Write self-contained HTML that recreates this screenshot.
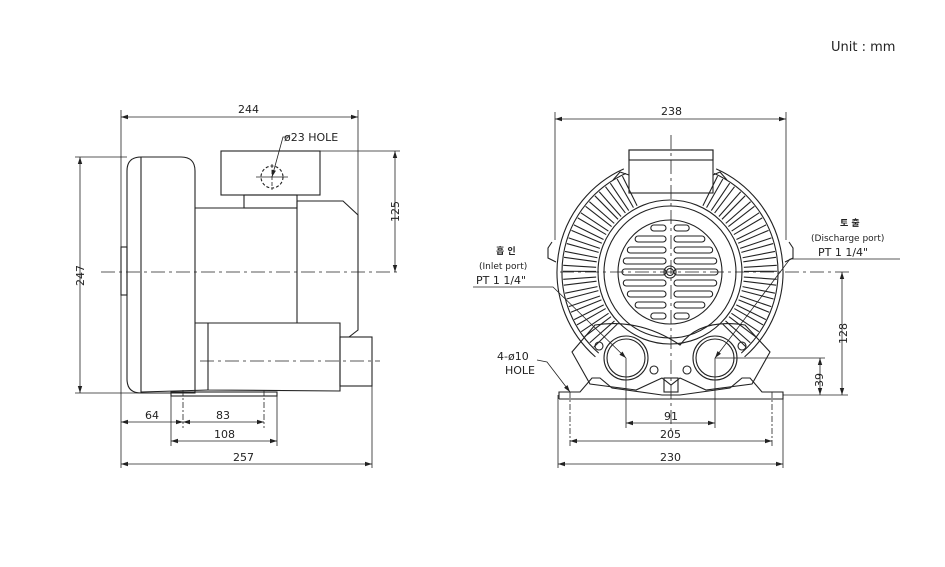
<!DOCTYPE html>
<html><head><meta charset="utf-8"><style>
html,body{margin:0;padding:0;background:#fff}
svg{display:block}
text{font-family:"DejaVu Sans","Liberation Sans","Noto Sans CJK KR",sans-serif;fill:#222}
</style></head><body>
<svg id="s" width="945" height="567" viewBox="0 0 945 567" xmlns="http://www.w3.org/2000/svg">
<rect width="945" height="567" fill="#fff"/>
<text x="831" y="51" font-size="13" font-family="Liberation Sans,sans-serif">Unit : mm</text>
<g stroke="#222" stroke-width="1.1" fill="none">
<path d="M141,157 L181,157 Q195,157 195,171 L195,393 L141,393 Q127,393 127,379 L127,171 Q127,157 141,157 Z"/>
<line x1="141" y1="157" x2="141" y2="393"/>
<rect x="121" y="247" width="6" height="48"/>
<rect x="221" y="151" width="99" height="44"/>
<rect x="244" y="195" width="53" height="13"/>
<line x1="195" y1="208" x2="244" y2="208"/>
<line x1="195" y1="323" x2="297" y2="323"/>
<line x1="297" y1="201" x2="297" y2="323"/>
<polyline points="297,201 343,201 358,215 358,330 349,337"/>
<polyline points="208,323 208,390 340,391 340,323 297,323"/>
<rect x="340" y="337" width="32" height="49"/>
<line x1="141" y1="392" x2="208" y2="390"/>
<rect x="171" y="392" width="106" height="4"/>
<circle cx="272" cy="177" r="11" stroke-dasharray="3,2"/>
</g>
<g stroke="#222" stroke-width="0.8" fill="none">
<line x1="101" y1="272" x2="400" y2="272" stroke-dasharray="14,4,3,4"/>
<line x1="200" y1="361" x2="380" y2="361" stroke-dasharray="14,4,3,4"/>
<line x1="256" y1="177" x2="288" y2="177"/><line x1="272" y1="164" x2="272" y2="190" stroke-dasharray="4,2"/>
<line x1="121" y1="110" x2="121" y2="468"/><line x1="358" y1="110" x2="358" y2="215"/>
<line x1="121" y1="117" x2="358" y2="117"/>
<line x1="75" y1="157" x2="127" y2="157"/><line x1="75" y1="393" x2="171" y2="393"/>
<line x1="80" y1="157" x2="80" y2="393"/>
<line x1="320" y1="151" x2="400" y2="151"/>
<line x1="395" y1="151" x2="395" y2="272"/>
<line x1="183" y1="390" x2="183" y2="428" stroke-dasharray="6,2,2,2"/>
<line x1="264" y1="390" x2="264" y2="428" stroke-dasharray="6,2,2,2"/>
<line x1="171" y1="396" x2="171" y2="446"/><line x1="277" y1="396" x2="277" y2="446"/>
<line x1="372" y1="386" x2="372" y2="468"/>
<line x1="121" y1="422" x2="264" y2="422"/>
<line x1="171" y1="441" x2="277" y2="441"/>
<line x1="121" y1="464" x2="372" y2="464"/>
<polyline points="290,137 283,137 272,177"/>
<line x1="555" y1="112" x2="555" y2="240"/><line x1="786" y1="112" x2="786" y2="240"/>
<line x1="555" y1="119" x2="786" y2="119"/>
<line x1="671" y1="135" x2="671" y2="430" stroke-dasharray="14,4,3,4"/>
<line x1="560" y1="272" x2="850" y2="272" stroke-dasharray="14,4,3,4"/>
<line x1="626" y1="358" x2="626" y2="428"/><line x1="715" y1="358" x2="715" y2="428"/>
<line x1="570" y1="392" x2="570" y2="446" stroke-dasharray="6,2,2,2"/><line x1="772" y1="392" x2="772" y2="446" stroke-dasharray="6,2,2,2"/>
<line x1="558" y1="395" x2="558" y2="468"/><line x1="783" y1="395" x2="783" y2="468"/>
<line x1="626" y1="423" x2="715" y2="423"/>
<line x1="570" y1="441" x2="772" y2="441"/>
<line x1="558" y1="464" x2="783" y2="464"/>
<line x1="783" y1="395" x2="848" y2="395"/>
<line x1="842" y1="272" x2="842" y2="395"/>
<line x1="715" y1="358" x2="825" y2="358"/>
<line x1="820" y1="358" x2="820" y2="395"/>
<polyline points="473,287 553,287 626,358"/>
<polyline points="900,259 790,259 715,358"/>
<polyline points="537,360 547,362 570,392"/>
</g>
<g fill="#222" id="arrows"></g>
<g stroke="#222" stroke-width="1.1" fill="none" id="rv">
<rect x="629" y="150" width="84" height="43"/>
<rect x="629" y="150" width="84" height="10"/>
<circle cx="670" cy="272" r="72"/>
<circle cx="670" cy="272" r="66"/>
<circle cx="670" cy="272" r="52"/>
<circle cx="670" cy="272" r="6"/><circle cx="670" cy="272" r="3.5"/>
<path d="M552,242 L548,248 L548,258 L556,262"/>
<path d="M789,242 L793,248 L793,258 L785,262"/>
<path d="M613,180 L620,172 L629,175"/>
<path d="M727,180 L720,172 L713,175"/>
<path d="M595,325 Q640,318 680,345 Q700,318 745,325 L770,352 L752,384 L706,390 L680,378 L671,385 L662,378 L636,390 L590,384 L572,352 Z"/>
<circle cx="626" cy="358" r="22"/><circle cx="626" cy="358" r="19"/>
<circle cx="715" cy="358" r="22"/><circle cx="715" cy="358" r="19"/>
<circle cx="599" cy="346" r="4"/><circle cx="654" cy="370" r="4"/>
<circle cx="687" cy="370" r="4"/><circle cx="742" cy="346" r="4"/>
<polyline points="559,399 559,392 580,392 592,378 600,378 612,388 662,395 680,395 730,388 742,378 750,378 762,392 783,392 783,399 559,399"/>
<rect x="664" y="378" width="14" height="14"/>
</g>
<text x="238" y="113" font-size="11">244</text>
<text x="284" y="141" font-size="11">ø23 HOLE</text>
<text x="67" y="283" font-size="11" transform="rotate(-90 77 276)">247</text>
<text x="381" y="220" font-size="11" transform="rotate(-90 391 212)">125</text>
<text x="145" y="419" font-size="11">64</text>
<text x="216" y="419" font-size="11">83</text>
<text x="214" y="438" font-size="11">108</text>
<text x="233" y="461" font-size="11">257</text>
<text x="661" y="115" font-size="11">238</text>
<text x="664" y="420" font-size="11">91</text>
<text x="660" y="438" font-size="11">205</text>
<text x="660" y="461" font-size="11">230</text>
<text x="828" y="343" font-size="11" transform="rotate(-90 838 334)">128</text>
<text x="806" y="384" font-size="11" transform="rotate(-90 816 377)">39</text>
<text x="496" y="254" font-size="9" font-weight="bold" font-family="Noto Sans CJK KR,sans-serif">흡 인</text>
<text x="479" y="269" font-size="9">(Inlet port)</text>
<text x="476" y="284" font-size="11">PT 1 1/4"</text>
<text x="840" y="226" font-size="9" font-weight="bold" font-family="Noto Sans CJK KR,sans-serif">토 출</text>
<text x="811" y="241" font-size="9">(Discharge port)</text>
<text x="818" y="256" font-size="11">PT 1 1/4"</text>
<text x="497" y="360" font-size="11">4-ø10</text>
<text x="505" y="374" font-size="11">HOLE</text>
</svg>
<script>
var ns="http://www.w3.org/2000/svg",rv=document.getElementById('rv'),ar=document.getElementById('arrows');
function el(t,a,p){var e=document.createElementNS(ns,t);for(var k in a)e.setAttribute(k,a[k]);(p||rv).appendChild(e);return e;}
var cx=670,cy=272;
function arc(r,a0,a1){el('path',{d:'M'+(cx+r*Math.cos(a0))+','+(cy+r*Math.sin(a0))+' A'+r+','+r+' 0 0 1 '+(cx+r*Math.cos(a1))+','+(cy+r*Math.sin(a1))});}
arc(113,-1.15,0.85);arc(113,Math.PI-0.85,Math.PI+1.15);
arc(108,-1.15,0.85);arc(108,Math.PI-0.85,Math.PI+1.15);
for(var d=-62;d<=50;d+=7.5){[d,180-d].forEach(function(a){var r=a*Math.PI/180;for(var o=-1.6;o<=1.6;o+=3.2){var rr=r+o*Math.PI/180;el('line',{x1:cx+74*Math.cos(rr),y1:cy+74*Math.sin(rr),x2:cx+107*Math.cos(rr),y2:cy+107*Math.sin(rr)});}});}
for(var y=cy-44;y<=cy+44;y+=11){var h=Math.sqrt(Math.max(0,48*48-(y-cy)*(y-cy)));if(h<10)continue;
 el('rect',{x:cx-h,y:y-3,width:h-4,height:6,rx:3});el('rect',{x:cx+4,y:y-3,width:h-4,height:6,rx:3});}
function arrow(x,y,ang){var a=ang*Math.PI/180,L=7,w=2.2;var p=[[x,y],[x-L*Math.cos(a)+w*Math.sin(a),y-L*Math.sin(a)-w*Math.cos(a)],[x-L*Math.cos(a)-w*Math.sin(a),y-L*Math.sin(a)+w*Math.cos(a)]];el('polygon',{points:p.map(function(q){return q.join(',')}).join(' ')},ar);}
[[121,117,180],[358,117,0],[80,157,-90],[80,393,90],[395,151,-90],[395,272,90],[121,422,180],[183,422,0],[183,422,180],[264,422,0],[171,441,180],[277,441,0],[121,464,180],[372,464,0],
[555,119,180],[786,119,0],[626,423,180],[715,423,0],[570,441,180],[772,441,0],[558,464,180],[783,464,0],[842,272,-90],[842,395,90],[820,358,-90],[820,395,90],
[626,358,44],[715,358,127],[570,392,53],[272,177,105]].forEach(function(v){arrow(v[0],v[1],v[2]);});
</script>
</body></html>
